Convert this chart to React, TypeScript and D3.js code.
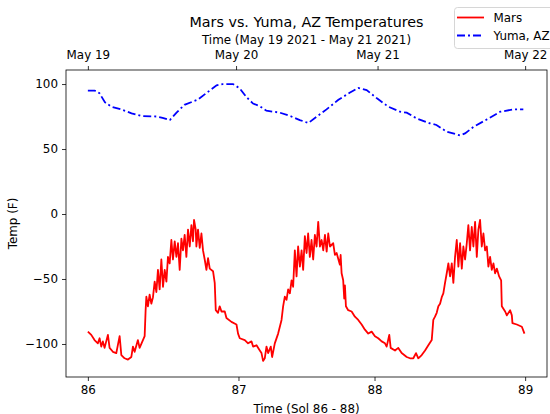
import { useEffect, useRef } from 'react';
import * as d3 from 'd3';

const width = 550;
const height = 414;
const margin = { top: 70, right: 3, bottom: 37, left: 66 };

// time axis is hours since May 19 2021 00:00
const yumaHours = [
  0, 1.1, 1.9, 2.8, 3.9, 5.5, 7.2, 8.8, 11.3, 12.3, 13.5, 14.6, 15.9, 18.1, 19.5, 21.2,
  22.2, 23.9, 25, 26.1, 27.2, 28.3, 29.4, 31.6, 33.3, 34.9, 36.3, 37.7, 39.3, 41.2, 43.1,
  44.5, 45.9, 47.6, 49.5, 51.4, 52.5, 54.1, 56.3, 57.4, 59.1, 61.3, 62.1, 63.5, 65.7, 67.9,
  70.1, 71.7,
];
const yumaTemps = [
  95, 95, 93, 86, 82.5, 80.5, 77.5, 75.4, 75, 74, 72.3, 78, 84, 88, 93, 99,
  100, 100, 96.7, 90, 85, 83, 79.5, 78, 75.4, 72.3, 70, 75, 80.5, 87.7, 93.3,
  97, 95.4, 89, 82.5, 78.7, 78, 73.6, 69.8, 68.5, 63.3, 60.5, 62, 67, 72.8, 78.7,
  80.5, 80.5,
];

const marsHours = [
  0, 0.56, 1.1, 1.65, 1.93, 2.21, 2.47, 2.75, 3.3, 3.58, 4.12, 4.68, 5.23, 5.51, 6.05, 6.6,
  7.16, 7.42, 7.7, 8.24, 8.52, 9.07, 9.35, 9.51, 9.63, 9.89, 10.17, 10.45, 10.72, 11, 11.28,
  11.54, 11.82, 12.1, 12.37, 12.65, 12.93, 13.19, 13.47, 13.75, 14.01, 14.3, 14.58, 14.84,
  15.12, 15.4, 15.66, 15.94, 16.22, 16.49, 16.77, 17.05, 17.31, 17.48, 17.76, 17.87, 18.14,
  18.42, 18.7, 18.96, 19.24, 19.52, 19.79, 20.07, 20.61, 20.89, 21.06, 21.43, 21.71, 22,
  22.54, 22.82, 23.64, 24.47, 24.73, 25.01, 25.84, 26.38, 26.94, 27.21, 27.77, 28.31, 28.59,
  28.85, 29.13, 29.41, 29.68, 30.12, 30.34, 30.78, 31.33, 31.89, 32.15, 32.43, 32.71, 32.98,
  33.26, 33.54, 33.8, 34.08, 34.36, 34.62, 34.91, 35.19, 35.45, 35.73, 36.01, 36.27, 36.55,
  36.83, 37.1, 37.38, 37.66, 37.93, 38.21, 38.49, 38.76, 39.04, 39.32, 39.58, 39.86, 40.4,
  40.68, 40.96, 41.5, 41.62, 41.78, 42.04, 42.21, 42.33, 42.49, 42.87, 43.43, 43.97, 44.52,
  45.08, 45.62, 46.17, 46.73, 47.27, 47.81, 48.38, 48.92, 49.2, 49.63, 49.86, 50.57, 51.11,
  51.67, 52.5, 53.04, 53.59, 54.03, 54.41, 54.97, 55.52, 56.06, 56.62, 56.88, 57.16, 57.44,
  57.71, 57.99, 58.27, 58.53, 58.81, 59.09, 59.36, 59.64, 59.92, 60.18, 60.46, 60.74, 61.01,
  61.29, 61.57, 61.83, 62.11, 62.39, 62.65, 62.93, 63.21, 63.48, 63.76, 64.04, 64.3, 64.58,
  64.86, 65.13, 65.41, 65.69, 65.95, 66.23, 66.51, 66.78, 67.06, 67.34, 67.72, 68.05, 68.16,
  68.71, 68.99, 69.53, 69.81, 69.91, 70.63, 71.46, 71.89,
];
const marsTemps = [
  -90.5, -93, -97, -99.5, -95.6, -102, -98, -103, -93, -103, -106, -107, -94, -108.5, -111, -112,
  -110, -102, -106, -97, -103, -97, -94, -74, -63.6, -71, -62, -69, -64, -52, -60,
  -43, -58, -35, -56, -43, -52, -33, -38, -20, -35, -21, -33, -22.5,
  -43, -19, -28, -16, -33, -12, -25, -8.5, -21, -4.6, -12, -25, -12,
  -26, -15, -28, -35, -43, -34, -42, -44, -53, -74, -76, -71, -75,
  -75, -80, -83, -85, -92, -95.6, -97, -99.5, -98, -102, -101, -105, -107,
  -113, -111, -102, -107, -102, -110, -99.5, -92, -81.5, -71, -63.6, -66, -58,
  -61, -51, -56, -28, -48, -25, -40.5, -28, -43, -17, -30, -15, -33,
  -20, -35, -16, -25, -6, -25, -20, -28, -16, -29, -15, -25, -22.5,
  -31.5, -30, -39, -31.5, -45.6, -51, -65, -55, -71, -74, -75, -79, -81.5,
  -85, -89, -92, -90.5, -94, -95.6, -98, -99.5, -102, -93, -103, -105, -103,
  -107, -110, -111, -111, -107, -111, -108.5, -105, -101, -97, -81.5, -79, -76,
  -71, -69, -64, -61, -53, -45.6, -38, -48, -38, -53, -33, -20, -40.5,
  -22.5, -42, -25, -35, -22.5, -8.5, -28, -10, -25, -6, -33, -12, -4.6,
  -25, -15, -28, -25, -40.5, -33, -43, -38, -45.6, -42, -48, -51, -71,
  -75, -78, -74, -78, -84, -85, -86.7, -92,
];

const solTicks = [0, 24.8, 47.2, 72];
const solLabels = ['86', '87', '88', '89'];
const dateTicks = [0, 24.4, 47.7, 72];
const dateLabels = ['May 19', 'May 20', 'May 21', 'May 22'];
const tempTicks = [-100, -50, 0, 50, 100];

const font = 'DejaVu Sans, sans-serif';

const App = () => {
  const ref = useRef<SVGSVGElement>(null);

  useEffect(() => {
    const svg = d3.select(ref.current);
    svg.selectAll('*').remove();

    const x = d3
      .scaleLinear()
      .domain([-3.6, 75.6])
      .range([margin.left, width - margin.right]);
    const y = d3
      .scaleLinear()
      .domain([-125.4, 110.8])
      .range([height - margin.bottom, margin.top]);

    const line = d3
      .line<[number, number]>()
      .x((d) => x(d[0]))
      .y((d) => y(d[1]));

    const mars = marsHours.map((h, i) => [h, marsTemps[i]] as [number, number]);
    const yuma = yumaHours.map((h, i) => [h, yumaTemps[i]] as [number, number]);

    svg
      .append('path')
      .attr('d', line(yuma))
      .attr('fill', 'none')
      .attr('stroke', '#0000ff')
      .attr('stroke-width', 1.8)
      .attr('stroke-dasharray', '8,3,2,3');

    svg
      .append('path')
      .attr('d', line(mars))
      .attr('fill', 'none')
      .attr('stroke', '#ff0000')
      .attr('stroke-width', 1.8)
      .attr('stroke-linejoin', 'round');

    const styleAxis = (g: any) => {
      g.select('.domain').remove();
      g.selectAll('line').attr('stroke', '#000').attr('stroke-width', 0.8);
      g.selectAll('text').attr('fill', '#000').style('font-family', font).style('font-size', '11.9px');
    };

    // bottom: sols
    svg
      .append('g')
      .attr('transform', `translate(0, ${height - margin.bottom})`)
      .call(
        d3
          .axisBottom(x)
          .tickValues(solTicks)
          .tickFormat((d, i) => solLabels[i])
          .tickSize(4)
          .tickPadding(5)
      )
      .call(styleAxis);

    // top: earth dates
    svg
      .append('g')
      .attr('transform', `translate(0, ${margin.top})`)
      .call(
        d3
          .axisTop(x)
          .tickValues(dateTicks)
          .tickFormat((d, i) => dateLabels[i])
          .tickSize(4)
          .tickPadding(7.5)
      )
      .call(styleAxis);

    // left: temp
    svg
      .append('g')
      .attr('transform', `translate(${margin.left}, 0)`)
      .call(d3.axisLeft(y).tickValues(tempTicks).tickSize(4).tickPadding(4))
      .call(styleAxis);

    // frame
    svg
      .append('rect')
      .attr('x', margin.left)
      .attr('y', margin.top)
      .attr('width', width - margin.left - margin.right)
      .attr('height', height - margin.top - margin.bottom)
      .attr('fill', 'none')
      .attr('stroke', '#000')
      .attr('stroke-width', 0.8);

    const cx = (margin.left + width - margin.right) / 2;

    svg
      .append('text')
      .attr('x', cx)
      .attr('y', 26.5)
      .attr('text-anchor', 'middle')
      .style('font-family', font)
      .style('font-size', '14.3px')
      .text('Mars vs. Yuma, AZ Temperatures');

    svg
      .append('text')
      .attr('x', cx)
      .attr('y', 43.5)
      .attr('text-anchor', 'middle')
      .style('font-family', font)
      .style('font-size', '11.9px')
      .text('Time (May 19 2021 - May 21 2021)');

    svg
      .append('text')
      .attr('x', cx)
      .attr('y', 412.5)
      .attr('text-anchor', 'middle')
      .style('font-family', font)
      .style('font-size', '11.9px')
      .text('Time (Sol 86 - 88)');

    svg
      .append('text')
      .attr('transform', `translate(16.5, ${(margin.top + height - margin.bottom) / 2}) rotate(-90)`)
      .attr('text-anchor', 'middle')
      .style('font-family', font)
      .style('font-size', '11.9px')
      .text('Temp (F)');

    // legend
    const legend = svg.append('g');
    legend
      .append('rect')
      .attr('x', 454.5)
      .attr('y', 7.5)
      .attr('width', 110)
      .attr('height', 41)
      .attr('rx', 3)
      .attr('fill', 'white')
      .attr('fill-opacity', 0.8)
      .attr('stroke', '#cccccc')
      .attr('stroke-width', 0.8);

    const items = [
      { label: 'Mars', color: '#ff0000', dash: null, y: 17.5 },
      { label: 'Yuma, AZ', color: '#0000ff', dash: '8,3,2,3', y: 35.5 },
    ];
    items.forEach((it) => {
      legend
        .append('line')
        .attr('x1', 457)
        .attr('x2', 484)
        .attr('y1', it.y)
        .attr('y2', it.y)
        .attr('stroke', it.color)
        .attr('stroke-width', 1.8)
        .attr('stroke-dasharray', it.dash);
      legend
        .append('text')
        .attr('x', 493.5)
        .attr('y', it.y)
        .attr('dy', '0.35em')
        .style('font-family', font)
        .style('font-size', '11.9px')
        .text(it.label);
    });
  }, []);

  return (
    <svg
      ref={ref}
      width={width}
      height={height}
      style={{ position: 'absolute', left: 0, top: 0, background: 'white' }}
    />
  );
};

export default App;
